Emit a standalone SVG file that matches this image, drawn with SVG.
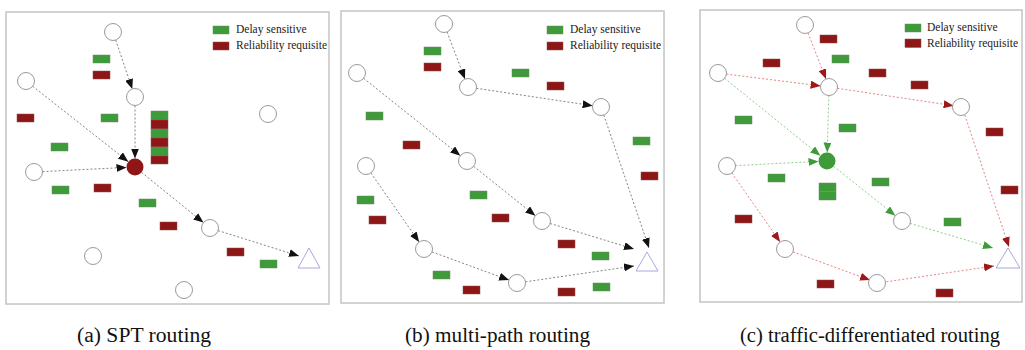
<svg xmlns="http://www.w3.org/2000/svg" width="1025" height="350" viewBox="0 0 1025 350">
<style>
.frame{fill:#fff;stroke:#c4c4c4;stroke-width:1.5}
.n{fill:#fff;stroke:#9a9a9a;stroke-width:1}
.g{fill:#3f9a3a;stroke:#6a8f68;stroke-width:0.5}
.r{fill:#8e1616;stroke:#8a5050;stroke-width:0.5}
.dst{fill:#fff;stroke:#a8a8dc;stroke-width:1}
.e{fill:none;stroke:#777;stroke-width:0.9;stroke-dasharray:2 2}
.er{fill:none;stroke:#e07878;stroke-width:0.9;stroke-dasharray:2 2}
.eg{fill:none;stroke:#80c880;stroke-width:0.9;stroke-dasharray:2 2}
.lg{font-size:11.5px;fill:#222}
.cap{font-size:20px;fill:#111}
</style>
<defs>
<marker id="ab" markerWidth="10" markerHeight="8" refX="10" refY="4" orient="auto" markerUnits="userSpaceOnUse"><path d="M0,0 L10,4 L0,8 z" fill="#111"/></marker>
<marker id="ar" markerWidth="10" markerHeight="8" refX="10" refY="4" orient="auto" markerUnits="userSpaceOnUse"><path d="M0,0 L10,4 L0,8 z" fill="#9e1818"/></marker>
<marker id="ag" markerWidth="10" markerHeight="8" refX="10" refY="4" orient="auto" markerUnits="userSpaceOnUse"><path d="M0,0 L10,4 L0,8 z" fill="#3f9a3a"/></marker>
</defs>
<rect width="1025" height="350" fill="#fff"/>

<!-- Panel A -->
<g id="panelA">
<rect class="frame" x="6" y="12" width="323" height="292"/>
<g id="legendA" font-family="'Liberation Serif', 'DejaVu Serif', serif">
<rect class="g" x="213" y="26" width="16" height="8"/><text class="lg" x="236" y="33">Delay sensitive</text>
<rect class="r" x="213" y="42" width="16" height="8"/><text class="lg" x="236" y="49">Reliability requisite</text>
</g>
<g id="packetsA">
<rect class="g" x="93" y="55" width="17" height="8"/>
<rect class="r" x="93" y="71" width="17" height="8"/>
<rect class="r" x="17" y="114" width="17" height="8"/>
<rect class="g" x="101" y="114" width="17" height="8"/>
<rect class="g" x="151" y="111" width="17" height="9"/>
<rect class="r" x="151" y="120" width="17" height="9"/>
<rect class="g" x="151" y="129" width="17" height="9"/>
<rect class="r" x="151" y="138" width="17" height="9"/>
<rect class="g" x="151" y="147" width="17" height="9"/>
<rect class="r" x="151" y="156" width="17" height="8"/>
<rect class="g" x="51" y="143" width="17" height="8"/>
<rect class="g" x="52" y="186" width="17" height="8"/>
<rect class="r" x="94" y="184" width="17" height="8"/>
<rect class="g" x="139" y="199" width="17" height="8"/>
<rect class="r" x="160" y="222" width="17" height="8"/>
<rect class="r" x="227" y="248" width="17" height="8"/>
<rect class="g" x="260" y="260" width="17" height="8"/>
</g>
<g id="edgesA">
<line class="e" x1="115.7" y1="40" x2="132.3" y2="89" marker-end="url(#ab)"/>
<line class="e" x1="32.7" y1="86.3" x2="128.3" y2="161.7" marker-end="url(#ab)"/>
<line class="e" x1="135" y1="105.5" x2="135" y2="158.5" marker-end="url(#ab)"/>
<line class="e" x1="42.5" y1="171.6" x2="126.5" y2="167.4" marker-end="url(#ab)"/>
<line class="e" x1="141.6" y1="172.4" x2="203.4" y2="222.6" marker-end="url(#ab)"/>
<line class="e" x1="218.1" y1="230.6" x2="299" y2="256" marker-end="url(#ab)"/>
</g>
<g id="nodesA">
<circle id="a1" class="n" cx="113" cy="32" r="8.5"/>
<circle id="a2" class="n" cx="26" cy="81" r="8.5"/>
<circle id="a3" class="n" cx="135" cy="97" r="8.5"/>
<circle id="a4" class="n" cx="268" cy="114" r="8.5"/>
<circle id="a5" cx="135" cy="167" r="8.5" fill="#8e1616"/>
<circle id="a6" class="n" cx="34" cy="172" r="8.5"/>
<circle id="a7" class="n" cx="210" cy="228" r="8.5"/>
<circle id="a8" class="n" cx="93" cy="256" r="8.5"/>
<circle id="a9" class="n" cx="184" cy="290" r="8.5"/>
<polygon id="aDst" class="dst" points="309,248 320,268 298,268"/>
</g>
</g>

<!-- Panel B -->
<g id="panelB">
<rect class="frame" x="341" y="11" width="323" height="292"/>
<g id="legendB" font-family="'Liberation Serif', 'DejaVu Serif', serif">
<rect class="g" x="547" y="26" width="16" height="8"/><text class="lg" x="570" y="33">Delay sensitive</text>
<rect class="r" x="547" y="42" width="16" height="8"/><text class="lg" x="570" y="49">Reliability requisite</text>
</g>
<g id="packetsB">
<rect class="g" x="424" y="47" width="17" height="8"/>
<rect class="r" x="424" y="63" width="17" height="8"/>
<rect class="g" x="512" y="69" width="17" height="8"/>
<rect class="r" x="547" y="82" width="17" height="8"/>
<rect class="g" x="366" y="112" width="17" height="8"/>
<rect class="r" x="403" y="141" width="17" height="8"/>
<rect class="g" x="633" y="137" width="17" height="8"/>
<rect class="r" x="641" y="172" width="17" height="8"/>
<rect class="g" x="357" y="196" width="17" height="8"/>
<rect class="r" x="369" y="216" width="17" height="8"/>
<rect class="g" x="470" y="191" width="17" height="8"/>
<rect class="r" x="492" y="214" width="17" height="8"/>
<rect class="r" x="558" y="240" width="17" height="8"/>
<rect class="g" x="592" y="252" width="17" height="8"/>
<rect class="g" x="433" y="271" width="17" height="8"/>
<rect class="r" x="463" y="286" width="17" height="8"/>
<rect class="r" x="558" y="288" width="17" height="8"/>
<rect class="g" x="593" y="283" width="17" height="8"/>
</g>
<g id="edgesB">
<line class="e" x1="447" y1="31.9" x2="465" y2="79.1" marker-end="url(#ab)"/>
<line class="e" x1="363.6" y1="78.3" x2="460.4" y2="155.7" marker-end="url(#ab)"/>
<line class="e" x1="476.4" y1="88.3" x2="592.6" y2="105.7" marker-end="url(#ab)"/>
<line class="e" x1="603.8" y1="115" x2="649" y2="248" marker-end="url(#ab)"/>
<line class="e" x1="473.6" y1="166.3" x2="535.4" y2="215.7" marker-end="url(#ab)"/>
<line class="e" x1="550.1" y1="223.5" x2="634" y2="249" marker-end="url(#ab)"/>
<line class="e" x1="370.9" y1="173" x2="419.1" y2="242" marker-end="url(#ab)"/>
<line class="e" x1="432" y1="251.9" x2="509" y2="280.1" marker-end="url(#ab)"/>
<line class="e" x1="525.4" y1="281.8" x2="634" y2="266" marker-end="url(#ab)"/>
</g>
<g id="nodesB">
<circle id="b1" class="n" cx="444" cy="24" r="8.5"/>
<circle id="b2" class="n" cx="357" cy="73" r="8.5"/>
<circle id="b3" class="n" cx="468" cy="87" r="8.5"/>
<circle id="b4" class="n" cx="601" cy="107" r="8.5"/>
<circle id="b5" class="n" cx="366" cy="166" r="8.5"/>
<circle id="b6" class="n" cx="467" cy="161" r="8.5"/>
<circle id="b7" class="n" cx="542" cy="221" r="8.5"/>
<circle id="b8" class="n" cx="424" cy="249" r="8.5"/>
<circle id="b9" class="n" cx="517" cy="283" r="8.5"/>
<polygon id="bDst" class="dst" points="647,252 658,271 636,271"/>
</g>
</g>

<!-- Panel C -->
<g id="panelC">
<rect class="frame" x="700" y="10" width="322" height="292"/>
<g id="legendC" font-family="'Liberation Serif', 'DejaVu Serif', serif">
<rect class="g" x="905" y="24" width="16" height="8"/><text class="lg" x="927" y="31">Delay sensitive</text>
<rect class="r" x="905" y="39" width="16" height="8.5"/><text class="lg" x="927" y="47">Reliability requisite</text>
</g>
<g id="packetsC">
<rect class="r" x="820" y="35" width="17" height="8"/>
<rect class="g" x="832" y="55" width="17" height="8"/>
<rect class="r" x="763" y="59" width="17" height="8"/>
<rect class="r" x="869" y="69" width="17" height="8"/>
<rect class="r" x="911" y="81" width="17" height="8"/>
<rect class="g" x="735" y="116" width="17" height="8"/>
<rect class="g" x="839" y="124" width="17" height="8"/>
<rect class="r" x="986" y="128" width="17" height="8"/>
<rect class="g" x="768" y="174" width="17" height="8"/>
<rect class="g" x="819" y="183" width="17" height="8.5"/>
<rect class="g" x="819" y="191.5" width="17" height="8.5"/>
<rect class="g" x="872" y="178" width="17" height="8"/>
<rect class="r" x="1001" y="186" width="17" height="8"/>
<rect class="r" x="735" y="215" width="17" height="8"/>
<rect class="g" x="944" y="218" width="17" height="8"/>
<rect class="r" x="817" y="280" width="17" height="8"/>
<rect class="r" x="936" y="289" width="17" height="8"/>
</g>
<g id="edgesC">
<line class="er" x1="808" y1="32.9" x2="826" y2="79.1" marker-end="url(#ar)"/>
<line class="er" x1="726.4" y1="74.1" x2="820.6" y2="85.9" marker-end="url(#ar)"/>
<line class="er" x1="837.4" y1="88.3" x2="953.6" y2="105.7" marker-end="url(#ar)"/>
<line class="er" x1="964.8" y1="115" x2="1009" y2="247" marker-end="url(#ar)"/>
<line class="er" x1="731.9" y1="173" x2="780.1" y2="242" marker-end="url(#ar)"/>
<line class="er" x1="793" y1="251.9" x2="870" y2="280.1" marker-end="url(#ar)"/>
<line class="er" x1="886.4" y1="281.8" x2="994" y2="266" marker-end="url(#ar)"/>
<line class="eg" x1="724.6" y1="78.3" x2="820.4" y2="155.7" marker-end="url(#ag)"/>
<line class="eg" x1="828.8" y1="95.5" x2="827.2" y2="152.5" marker-end="url(#ag)"/>
<line class="eg" x1="735.5" y1="165.6" x2="818.5" y2="161.4" marker-end="url(#ag)"/>
<line class="eg" x1="833.6" y1="166.3" x2="895.4" y2="215.7" marker-end="url(#ag)"/>
<line class="eg" x1="910.1" y1="223.4" x2="993" y2="248" marker-end="url(#ag)"/>
</g>
<g id="nodesC">
<circle id="c1" class="n" cx="805" cy="25" r="8.5"/>
<circle id="c2" class="n" cx="718" cy="73" r="8.5"/>
<circle id="c3" class="n" cx="829" cy="87" r="8.5"/>
<circle id="c4" class="n" cx="961" cy="107" r="8.5"/>
<circle id="c5" cx="827" cy="161" r="8.5" fill="#3f9a3a"/>
<circle id="c6" class="n" cx="727" cy="166" r="8.5"/>
<circle id="c7" class="n" cx="902" cy="221" r="8.5"/>
<circle id="c8" class="n" cx="785" cy="249" r="8.5"/>
<circle id="c9" class="n" cx="877" cy="283" r="8.5"/>
<polygon id="cDst" class="dst" points="1008,248 1020,268 996,268"/>
</g>
</g>

<g id="captions" font-family="'Liberation Serif', 'DejaVu Serif', serif">
<text class="cap" x="77" y="342" textLength="134" lengthAdjust="spacingAndGlyphs">(a) SPT routing</text>
<text class="cap" x="405" y="342" textLength="185" lengthAdjust="spacingAndGlyphs">(b) multi-path routing</text>
<text class="cap" x="740" y="342" textLength="260" lengthAdjust="spacingAndGlyphs">(c) traffic-differentiated routing</text>
</g>
</svg>
